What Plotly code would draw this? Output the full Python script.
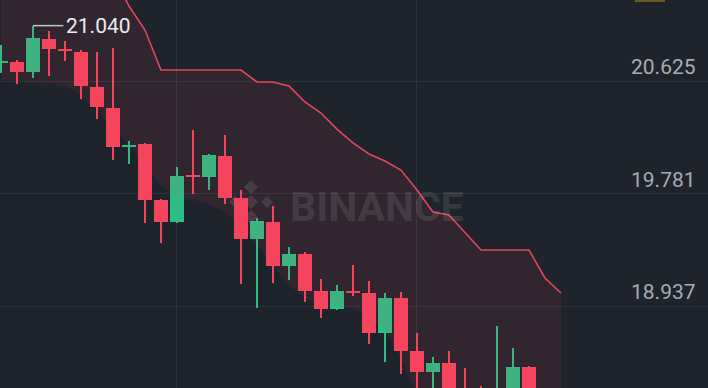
import plotly.graph_objects as go

# ---------------- data ----------------
idx = list(range(34))
opens  = [20.764, 20.767, 20.692, 20.940, 20.865, 20.842, 20.580, 20.423, 20.131, 20.153,
          19.734, 19.569, 19.917, 19.906, 20.063, 19.749, 19.442, 19.569, 19.239, 19.329,
          19.052, 18.917, 19.048, 19.037, 18.738, 19.000, 18.603, 18.445, 18.513, 18.290,
          18.300, 18.160, 18.250, 18.483]
highs  = [20.895, 20.782, 21.040, 20.999, 20.925, 20.857, 20.842, 20.872, 20.176, 20.161,
          19.740, 19.981, 20.258, 20.075, 20.221, 19.809, 19.599, 19.689, 19.382, 19.344,
          19.142, 19.097, 19.247, 19.127, 19.037, 19.045, 18.738, 18.558, 18.603, 18.475,
          18.341, 18.790, 18.625, 18.490]
lows   = [20.685, 20.603, 20.648, 20.662, 20.775, 20.490, 20.340, 20.033, 20.003, 19.561,
          19.412, 19.561, 19.779, 19.809, 19.704, 19.105, 18.925, 19.112, 19.135, 18.970,
          18.850, 18.910, 19.015, 18.655, 18.520, 18.431, 18.236, 18.236, 18.161, 18.120,
          18.090, 18.100, 18.200, 18.200]
closes = [20.771, 20.692, 20.947, 20.865, 20.850, 20.588, 20.430, 20.131, 20.142, 19.734,
          19.569, 19.913, 19.906, 20.071, 19.749, 19.442, 19.576, 19.239, 19.329, 19.052,
          18.917, 19.052, 19.037, 18.738, 19.000, 18.603, 18.445, 18.513, 18.273, 18.200,
          18.180, 18.290, 18.483, 18.270]

band_idx = list(range(36))
band_upper = [21.65, 21.65, 21.65, 21.65, 21.65, 21.65, 21.55, 21.426, 21.187, 21.007,
              20.707, 20.707, 20.707, 20.707, 20.707, 20.707, 20.618, 20.618, 20.588, 20.468,
              20.385, 20.265, 20.161, 20.078, 20.026, 19.958, 19.809, 19.644, 19.621, 19.487,
              19.359, 19.359, 19.359, 19.359, 19.149, 19.037]
band_lower = [20.632, 20.625, 20.618, 20.610, 20.588, 20.520, 20.408, 20.273, 20.146, 19.996,
              19.846, 19.756, 19.734, 19.704, 19.644, 19.546, 19.397, 19.247, 19.097, 19.000,
              18.955, 18.940, 18.925, 18.872, 18.760, 18.550, 18.273, 18.150, 18.100, 18.050,
              18.000, 18.000, 18.000, 18.000, 18.000, 18.000]

price_ticks = [18.937, 19.781, 20.625]
grid_x = [11, 26]

# ---------------- styles ----------------
BG = "#1f242c"
GREEN = "#2ebd85"
RED = "#f6465d"
GRID = "#2c323b"
W, H = 708, 388

colors = [GREEN if c >= o else RED for o, c in zip(opens, closes)]
body_base = [min(o, c) for o, c in zip(opens, closes)]
body_len = [max(abs(c - o), 0.013) for o, c in zip(opens, closes)]
wick_len = [h - l for h, l in zip(highs, lows)]

fig = go.Figure()

# band fill
fig.add_trace(go.Scatter(x=band_idx, y=band_lower, mode="lines",
                         line=dict(width=0, color="rgba(0,0,0,0)"),
                         hoverinfo="skip", showlegend=False))
fig.add_trace(go.Scatter(x=band_idx, y=band_upper, mode="lines",
                         line=dict(width=1.6, color="#e0475c"),
                         fill="tonexty", fillcolor="rgba(240,70,92,0.085)",
                         hoverinfo="skip", showlegend=False))

# wicks
fig.add_trace(go.Bar(x=idx, base=lows, y=wick_len, width=0.13,
                     marker=dict(color=colors, line=dict(width=0)),
                     hoverinfo="skip", showlegend=False))
# bodies
fig.add_trace(go.Bar(x=idx, base=body_base, y=body_len, width=0.9,
                     marker=dict(color=colors, line=dict(width=0)),
                     hoverinfo="skip", showlegend=False))

# max price marker
imax = highs.index(max(highs))
fig.add_shape(type="line", x0=imax, x1=imax + 1.9, y0=highs[imax], y1=highs[imax],
              line=dict(color="#c3c7cd", width=1.5))
fig.add_annotation(x=imax + 1.95, y=highs[imax], text=f"{highs[imax]:.3f}",
                   xanchor="left", yanchor="middle", showarrow=False,
                   font=dict(family="Roboto", size=21, color="#eaecef"))

# price labels (above grid lines, right side)
for p in price_ticks:
    fig.add_annotation(x=698 / W, xref="paper", y=p, yref="y", text=f"{p:.3f}",
                       xanchor="right", yanchor="bottom", showarrow=False, yshift=0,
                       font=dict(family="Roboto", size=21, color="#a7acb4"))

# watermark
fig.add_annotation(x=377 / W, y=1 - 207 / H, xref="paper", yref="paper", text="<b>BINANCE</b>",
                   showarrow=False, xanchor="center", yanchor="middle",
                   font=dict(family="Roboto", size=41, color="rgba(255,255,255,0.11)"))

def diamond(cx, cy, r):
    return f"M {cx-r},{cy} L {cx},{cy+r} L {cx+r},{cy} L {cx},{cy-r} Z"

logo_paths = [diamond(0, 0, 7), diamond(-16, 0, 6), diamond(16, 0, 6),
              diamond(0, 15, 7), diamond(0, -15, 7)]
for pth in logo_paths:
    fig.add_shape(type="path", path=pth, xref="paper", yref="paper",
                  xsizemode="pixel", ysizemode="pixel",
                  xanchor=251 / W, yanchor=1 - 202 / H,
                  fillcolor="rgba(255,255,255,0.11)", line=dict(width=0), layer="below")

# small marker at top edge
fig.add_shape(type="rect", xref="paper", yref="paper", x0=635 / W, x1=665 / W,
              y0=1 - 2 / H, y1=1, fillcolor="#6b5a1c", line=dict(width=0))

fig.update_layout(
    width=W, height=H, margin=dict(l=0, r=0, t=0, b=0),
    paper_bgcolor=BG, plot_bgcolor=BG, barmode="overlay", bargap=0,
    showlegend=False, hovermode=False,
    xaxis=dict(range=[-0.06, 44.19], tickvals=grid_x, showticklabels=False,
               showgrid=True, gridcolor=GRID, gridwidth=1, zeroline=False, fixedrange=True),
    yaxis=dict(range=[18.325, 21.232], tickvals=price_ticks, showticklabels=False,
               showgrid=True, gridcolor=GRID, gridwidth=1, zeroline=False, fixedrange=True),
)

fig.write_html("out.html")
